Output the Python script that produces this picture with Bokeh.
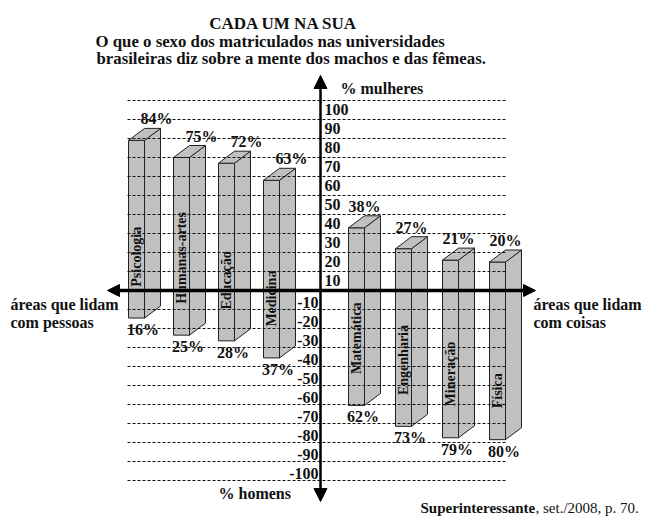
import math
from bokeh.plotting import figure
from bokeh.models import Range1d, Label, Arrow, NormalHead
from bokeh.core.properties import value
from bokeh.embed import file_html
from bokeh.resources import INLINE

# ---------------- data ----------------
categories = ["Psicologia", "Humanas-artes", "Educação", "Medicina",
              "Matemática", "Engenharia", "Mineração", "Física"]
mulheres = [84, 75, 72, 63, 38, 27, 21, 20]   # % women (up)
homens = [16, 25, 28, 37, 62, 73, 79, 80]     # % men (down)
pos_ticks = [100, 90, 80, 70, 60, 50, 40, 30, 20, 10]
neg_ticks = [-10, -20, -30, -40, -50, -60, -70, -80, -90, -100]

# ---------------- layout helpers ----------------
X0, Y0, S = 320.0, 290.0, 1.9     # page px of origin, px per % unit
W, H = 642, 517
OX, OY = 0, 0                     # page position of canvas


def sx(x):
    return x - X0


def sy(y):
    return (Y0 - y) / S


FONT = "Liberation Serif"
GRAY = "#c0c0c0"
EDGE = "#222222"

p = figure(width=W, height=H, output_backend="svg", toolbar_location=None,
           x_range=Range1d(sx(OX), sx(OX + W)), y_range=Range1d(sy(OY + H), sy(OY)),
           x_axis_location=None, y_axis_location=None, min_border=0,
           outline_line_color=None, background_fill_color="white")
p.grid.visible = False

# ---------------- bars (pseudo 3D) ----------------
bw = 16.0          # front width (px == x units)
ddx = 16.0         # depth in x
ddy = 12.0 / S     # depth in y (units)
n_left = 4
lefts = []
for i in range(len(categories)):
    if i < n_left:
        lefts.append(sx(263) - 45.0 * (n_left - 1 - i))
    else:
        lefts.append(sx(489) - 47.0 * (len(categories) - 1 - i))

fx0, fx1, fyb, fyt = [], [], [], []
side_xs, side_ys, top_xs, top_ys = [], [], [], []
for x0, w_, h_ in zip(lefts, mulheres, homens):
    x1 = x0 + bw
    yb = -h_ + 1.5
    yt = w_ - 5.0
    fx0.append(x0); fx1.append(x1); fyb.append(yb); fyt.append(yt)
    side_xs.append([x1, x1 + ddx, x1 + ddx, x1])
    side_ys.append([yb, yb + ddy, yt + ddy, yt])
    top_xs.append([x0, x0 + ddx, x1 + ddx, x1])
    top_ys.append([yt, yt + ddy, yt + ddy, yt])

p.quad(left=fx0, right=fx1, bottom=fyb, top=fyt, fill_color=GRAY,
       line_color=EDGE, line_width=1)
p.patches(side_xs, side_ys, fill_color=GRAY, line_color=EDGE, line_width=1)
p.patches(top_xs, top_ys, fill_color=GRAY, line_color=EDGE, line_width=1)

# ---------------- dotted grid lines (drawn over bars) ----------------
grid_vals = pos_ticks + neg_ticks
p.segment(x0=[sx(127)] * len(grid_vals), x1=[sx(505)] * len(grid_vals),
          y0=grid_vals, y1=grid_vals, line_color="#111111", line_width=1,
          line_dash="3 2")

# ---------------- tick labels ----------------
p.text(x=[sx(324)] * len(pos_ticks), y=[v - 4.5 for v in pos_ticks],
       text=[str(v) for v in pos_ticks], text_align="left",
       text_baseline="middle", text_font=value(FONT), text_font_style="bold",
       text_font_size="16px", text_color="#111111")
p.text(x=[sx(318)] * len(neg_ticks), y=[v + 3.5 for v in neg_ticks],
       text=[str(v) for v in neg_ticks], text_align="right",
       text_baseline="middle", text_font=value(FONT), text_font_style="bold",
       text_font_size="16px", text_color="#111111")

# ---------------- percentage labels ----------------
top_x = [x1 + (12 if i < n_left else 0) for i, x1 in enumerate(fx1)]
top_y = [yt + ddy for yt in fyt]
p.text(x=top_x, y=top_y, text=[f"{v}%" for v in mulheres], y_offset=-9.5,
       text_align="center", text_baseline="middle", text_font=value(FONT),
       text_font_style="bold", text_font_size="16px", text_color="#111111")
p.text(x=[x1 - 1.5 for x1 in fx1], y=fyb, text=[f"{v}%" for v in homens],
       y_offset=11.5, text_align="center", text_baseline="middle",
       text_font=value(FONT), text_font_style="bold", text_font_size="16px",
       text_color="#111111")

# ---------------- category labels (rotated inside bars) ----------------
p.text(x=[x0 + bw / 2 for x0 in fx0], y=[yb + 16.5 for yb in fyb],
       text=categories, angle=math.pi / 2, text_align="left",
       text_baseline="middle", text_font=value(FONT), text_font_style="bold",
       text_font_size="14px", text_color="#111111")

# ---------------- axes with arrows ----------------
p.add_layout(Arrow(start=NormalHead(size=12, fill_color="black", line_color="black"),
                   end=NormalHead(size=12, fill_color="black", line_color="black"),
                   x_start=sx(107), y_start=0, x_end=sx(535), y_end=0,
                   line_width=3.5, line_color="black"))
p.add_layout(Arrow(start=NormalHead(size=13, fill_color="black", line_color="black"),
                   end=NormalHead(size=13, fill_color="black", line_color="black"),
                   x_start=0, y_start=sy(501), x_end=0, y_end=sy(75),
                   line_width=2.5, line_color="black"))

# ---------------- static texts ----------------


def lab(x, y, t, align="left", style="bold", size="16px"):
    p.add_layout(Label(x=sx(x), y=sy(y), text=t, text_align=align,
                       text_baseline="middle", text_font=FONT,
                       text_font_style=style, text_font_size=size,
                       text_color="#111111"))


lab(283, 23, "CADA UM NA SUA", align="center", size="17px")
lab(95, 41, "O que o sexo dos matriculados nas universidades", size="16.8px")
lab(96, 58, "brasileiras diz sobre a mente dos machos e das fêmeas.", size="16.8px")
lab(340, 88, "% mulheres")
lab(218, 493, "% homens")
lab(10, 304, "áreas que lidam")
lab(10, 322, "com pessoas")
lab(533, 304, "áreas que lidam")
lab(533, 322, "com coisas")
lab(420, 507, "Superinteressante", size="15px")
lab(535, 507, ", set./2008, p. 70.", style="normal", size="15px")

open("out.html", "w").write(file_html(p, INLINE))
